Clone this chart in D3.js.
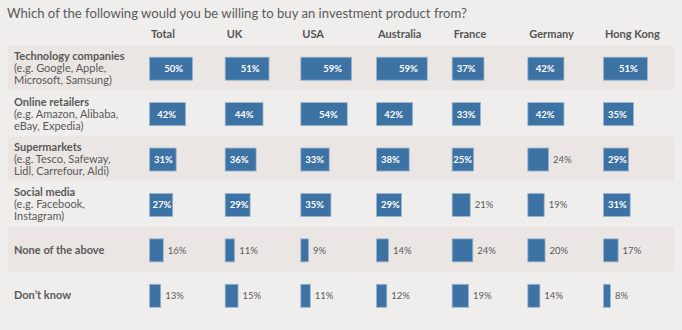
<!DOCTYPE html>
<html>
<head>
<meta charset="utf-8">
<script src="https://cdn.jsdelivr.net/npm/d3@7"></script>
<style>
  html, body { margin: 0; padding: 0; background: #f0eeec; }
  svg { display: block; }
  text { font-family: Lato, "Open Sans", sans-serif; }
</style>
</head>
<body>
<div id="chart"></div>
<script>
const title = "Which of the following would you be willing to buy an investment product from?";
const countries = ["Total", "UK", "USA", "Australia", "France", "Germany", "Hong Kong"];
const rowTitles = ["Technology companies", "Online retailers", "Supermarkets", "Social media", "None of the above", "Don\u2019t know"];
const rowSubtitles = [
  ["(e.g. Google, Apple,", "Microsoft, Samsung)"],
  ["(e.g. Amazon, Alibaba,", "eBay, Expedia)"],
  ["(e.g. Tesco, Safeway,", "Lidl, Carrefour, Aldi)"],
  ["(e.g. Facebook,", "Instagram)"],
  [],
  []
];
const techValues     = [50, 51, 59, 59, 37, 42, 51];
const onlineValues   = [42, 44, 54, 42, 33, 42, 35];
const superValues    = [31, 36, 33, 38, 25, 24, 29];
const socialValues   = [27, 29, 35, 29, 21, 19, 31];
const noneValues     = [16, 11, 9, 14, 24, 20, 17];
const dontKnowValues = [13, 15, 11, 12, 19, 14, 8];
const seriesValues = [techValues, onlineValues, superValues, socialValues, noneValues, dontKnowValues];

const W = 682, H = 330;
const svg = d3.select("#chart").append("svg").attr("width", W).attr("height", H);
svg.append("rect").attr("width", W).attr("height", H).attr("fill", "#f0eeec");

const x = d3.scalePoint().domain(countries).range([149, 603]);
const y = d3.scaleBand().domain(rowTitles).range([45.5, 318]).paddingInner(0).paddingOuter(0);
const w = d3.scaleLinear().domain([0, 100]).range([0, 86]);
const barH = 23;

// row bands
svg.selectAll("rect.band").data(rowTitles.filter((d, i) => i % 2 === 0))
  .join("rect").attr("class", "band")
  .attr("x", 8).attr("width", 666)
  .attr("y", d => y(d)).attr("height", y.bandwidth() - 1)
  .attr("fill", "#ebe6e3");

// title
const t = svg.append("text").attr("x", 7).attr("y", 18)
  .attr("fill", "#5a5a5a").attr("font-size", 15).text(title);
const tl = t.node().getComputedTextLength();
t.attr("font-size", 15 * 460 / tl);

// headers
svg.selectAll("text.hdr").data(countries).join("text").attr("class", "hdr")
  .attr("x", d => x(d) + 2).attr("y", 38)
  .attr("fill", "#555").attr("font-size", 11).attr("font-weight", "bold")
  .text(d => d);

// row labels
rowTitles.forEach((r, i) => {
  const lines = [r].concat(rowSubtitles[i]);
  const cy = y(r) + y.bandwidth() / 2;
  const lh = 12;
  const y0 = cy - (lines.length - 1) * lh / 2 + 4;
  const g = svg.append("text").attr("fill", "#595959").attr("font-size", 11);
  lines.forEach((ln, j) => {
    g.append("tspan").attr("x", 14).attr("y", y0 + j * lh)
      .attr("font-weight", j === 0 ? "bold" : "normal").text(ln);
  });
});

// bars
const cells = [];
rowTitles.forEach((r, i) => {
  countries.forEach((c, j) => cells.push({ row: r, country: c, value: seriesValues[i][j] }));
});

const barY = d => y(d.row) + (y.bandwidth() - barH) / 2 + 0.5;

svg.selectAll("rect.bar").data(cells).join("rect").attr("class", "bar")
  .attr("x", d => x(d.country) + 0.5)
  .attr("y", barY)
  .attr("width", d => w(d.value))
  .attr("height", barH)
  .attr("fill", "#3d72a4")
  .attr("stroke", "#9ab6cf").attr("stroke-width", 0.8);

const labels = svg.selectAll("text.val").data(cells).join("text").attr("class", "val")
  .attr("y", d => barY(d) + barH / 2 + 3.5)
  .attr("font-size", 9.5)
  .attr("fill", d => d.value >= 25 ? "#ffffff" : "#5a5a5a")
  .attr("font-weight", d => d.value >= 25 ? "bold" : "normal")
  .text(d => d.value + "%");

labels.each(function(d) {
  const el = d3.select(this);
  const start = x(d.country);
  const end = start + w(d.value);
  if (d.value >= 25) {
    const tw = this.getComputedTextLength();
    let xe = Math.max(end - 9, start + 5 + tw);
    xe = Math.min(xe, end - 1);
    el.attr("text-anchor", "end").attr("x", xe);
  } else {
    el.attr("text-anchor", "start").attr("x", end + 5);
  }
});
</script>
</body>
</html>
